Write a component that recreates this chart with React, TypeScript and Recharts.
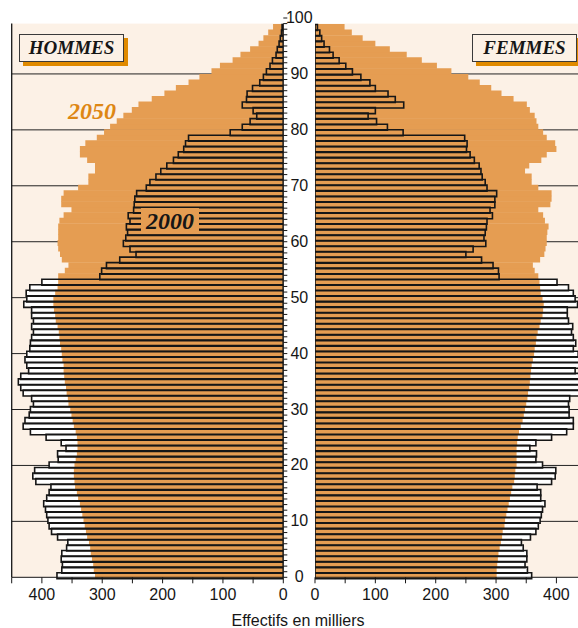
import React from 'react';
import { BarChart, Bar, XAxis, YAxis, ReferenceLine, CartesianGrid } from 'recharts';

// ages 0..99 (one bar per year of age)
const ages = Array.from({ length: 100 }, (_, i) => i);

// effectifs en milliers, index = age
const hommes2000 = [
  375, 367, 366, 368, 367, 359, 357, 374, 384, 388,
  390, 392, 394, 397, 392, 388, 385, 410, 415, 412,
  388, 373, 374, 360, 368, 393, 419, 431, 428, 421,
  419, 414, 417, 431, 435, 439, 435, 422, 425, 428,
  425, 420, 419, 417, 414, 417, 414, 417, 417, 430,
  425, 426, 420, 400, 304, 301, 293, 271, 244, 254,
  265, 261, 258, 260, 254, 257, 248, 247, 246, 243,
  227, 221, 211, 203, 193, 182, 174, 165, 162, 157,
  88, 68, 55, 44, 50, 68, 61, 60, 51, 39,
  33, 28, 22, 18, 12, 10, 7, 5, 3, 2,
];
const femmes2000 = [
  359, 352, 348, 351, 351, 345, 342, 357, 366, 370,
  373, 375, 377, 381, 374, 374, 368, 392, 398, 399,
  377, 366, 367, 356, 366, 392, 417, 428, 428, 421,
  421, 420, 422, 440, 440, 442, 440, 431, 440, 440,
  436, 428, 432, 428, 425, 427, 420, 418, 418, 435,
  431, 428, 420, 401, 305, 304, 295, 276, 250, 262,
  283, 280, 282, 284, 285, 294, 290, 298, 298, 301,
  285, 282, 277, 275, 272, 264, 257, 251, 252, 248,
  146, 120, 102, 88, 100, 147, 133, 121, 100, 91,
  76, 62, 51, 40, 30, 24, 15, 11, 8, 4,
];
const hommes2050 = [
  312, 314, 315, 317, 319, 320, 322, 325, 327, 329,
  331, 333, 335, 337, 340, 342, 345, 346, 347, 347,
  346, 344, 342, 341, 341, 342, 344, 347, 349, 351,
  353, 356, 357, 359, 360, 362, 363, 364, 364, 366,
  367, 368, 370, 371, 372, 374, 377, 378, 380, 381,
  381, 378, 374, 373, 373, 362, 356, 367, 370, 373,
  374, 373, 373, 373, 371, 364, 351, 368, 368, 364,
  340, 323, 323, 312, 312, 325, 337, 337, 328, 309,
  297, 287, 276, 265, 251, 240, 218, 197, 178, 157,
  139, 119, 105, 84, 71, 55, 41, 33, 25, 17,
];
const femmes2050 = [
  301, 301, 302, 303, 304, 306, 308, 310, 311, 314,
  315, 317, 319, 321, 323, 325, 327, 330, 331, 332,
  334, 334, 334, 334, 335, 336, 338, 341, 344, 346,
  348, 350, 352, 353, 355, 356, 357, 358, 359, 361,
  363, 364, 366, 367, 369, 372, 374, 377, 378, 379,
  377, 374, 373, 372, 370, 364, 361, 373, 380, 382,
  384, 384, 385, 387, 381, 378, 370, 390, 392, 392,
  370, 359, 359, 348, 355, 375, 384, 400, 398, 384,
  378, 370, 367, 364, 356, 351, 329, 309, 292, 273,
  254, 226, 202, 177, 152, 124, 100, 79, 61, 49,
];

const ageTicks = Array.from({ length: 101 }, (_, i) => i);
const decades = [10, 20, 30, 40, 50, 60, 70, 80, 90];
const effectifTicks = [0, 50, 100, 150, 200, 250, 300, 350, 400, 450];

const data = ages.map((age, i) => ({
  age,
  h2000: hommes2000[i],
  h2000o: hommes2000[i],
  h2050: hommes2050[i],
  f2000: femmes2000[i],
  f2000o: femmes2000[i],
  f2050: femmes2050[i],
}));

const ORANGE = '#E59D52';
const PEACH = '#FCF1E6';
const INK = '#161616';
const SANS = "'Liberation Sans', Arial, sans-serif";
const SERIF = "'Liberation Serif', 'Times New Roman', serif";

const fmtMilliers = (v: number) => (v % 100 === 0 ? String(v) : '');

function AgeLabel(props: any) {
  const { x, y, payload } = props;
  if (payload.value % 10 !== 0) return <g />;
  return (
    <text x={x + 10} y={y + 5} textAnchor="middle" fontSize={16} fontFamily={SANS} fill={INK}>
      {payload.value}
    </text>
  );
}

function Panel({ side }: { side: 'h' | 'f' }) {
  const left = side === 'h';
  return (
    <BarChart
      width={left ? 315 : 291.6}
      height={628}
      data={data}
      layout="vertical"
      barGap="-100%"
      barCategoryGap={0}
      margin={left ? { top: 23.6, right: 0, bottom: 0, left: 11.7 } : { top: 23.6, right: 5, bottom: 0, left: 0 }}
    >
      <CartesianGrid yAxisId="num" horizontal={false} vertical={false} fill={PEACH} fillOpacity={1} />
      <XAxis
        type="number"
        domain={[0, 450]}
        ticks={effectifTicks}
        reversed={left}
        interval={0}
        height={50.7}
        tickSize={6}
        tickMargin={5}
        tickFormatter={fmtMilliers}
        tick={{ fontSize: 16, fill: INK, fontFamily: SANS }}
        stroke={INK}
        allowDataOverflow
      />
      <YAxis yAxisId="cat" type="category" dataKey="age" reversed hide />
      <YAxis
        yAxisId="num"
        type="number"
        orientation={left ? 'right' : 'left'}
        domain={[0, 100]}
        reversed
        ticks={ageTicks}
        interval={0}
        width={left ? 31.7 : 15}
        tickSize={4}
        tickMargin={2}
        tick={left ? <AgeLabel /> : false}
        stroke={INK}
      />
      {decades.map((d) => (
        <ReferenceLine key={d} yAxisId="num" y={d} stroke="#222" strokeWidth={1} zIndex={60} />
      ))}
      <ReferenceLine yAxisId="num" y={100} stroke={INK} strokeWidth={1.3} />
      {left && <ReferenceLine yAxisId="num" x={450} stroke={INK} strokeWidth={1.3} />}
      <Bar yAxisId="cat" dataKey={left ? 'h2000' : 'f2000'} fill="#fff" isAnimationActive={false} />
      <Bar yAxisId="cat" dataKey={left ? 'h2050' : 'f2050'} fill={ORANGE} isAnimationActive={false} />
      <Bar yAxisId="cat" dataKey={left ? 'h2000o' : 'f2000o'} fill="none" stroke={INK} strokeWidth={1.6} isAnimationActive={false} />
    </BarChart>
  );
}

const boxStyle: React.CSSProperties = {
  position: 'absolute',
  top: 34,
  width: 105,
  height: 28,
  boxSizing: 'border-box',
  border: '1.5px solid #3a3a3a',
  background: PEACH,
  boxShadow: '4px 4px 0 #E08A00',
  fontFamily: SERIF,
  fontWeight: 'bold',
  fontStyle: 'italic',
  fontSize: 19,
  lineHeight: '25px',
  textAlign: 'center',
  color: INK,
};

export default function App() {
  return (
    <div style={{ position: 'fixed', left: 0, top: 0, width: 578, height: 628, overflow: 'hidden', background: '#fff' }}>
      <div style={{ position: 'absolute', left: 0, top: 0 }}>
        <Panel side="h" />
      </div>
      <div style={{ position: 'absolute', left: 300, top: 0 }}>
        <Panel side="f" />
      </div>
      <div style={{ ...boxStyle, left: 19 }}>HOMMES</div>
      <div style={{ ...boxStyle, left: 472 }}>FEMMES</div>
      <div
        style={{
          position: 'absolute', left: 62, top: 99, width: 60, lineHeight: '24px', textAlign: 'center',
          fontFamily: SERIF, fontWeight: 'bold', fontStyle: 'italic', fontSize: 24, color: '#DE8714',
        }}
      >
        2050
      </div>
      <div
        style={{
          position: 'absolute', left: 141, top: 208, width: 58, height: 26, lineHeight: '26px', textAlign: 'center',
          background: ORANGE, fontFamily: SERIF, fontWeight: 'bold', fontStyle: 'italic', fontSize: 24, color: INK,
        }}
      >
        2000
      </div>
      <div
        style={{
          position: 'absolute', left: 198, top: 612, width: 200, lineHeight: '18px', textAlign: 'center',
          fontFamily: SANS, fontSize: 16, color: INK,
        }}
      >
        Effectifs en milliers
      </div>
    </div>
  );
}
